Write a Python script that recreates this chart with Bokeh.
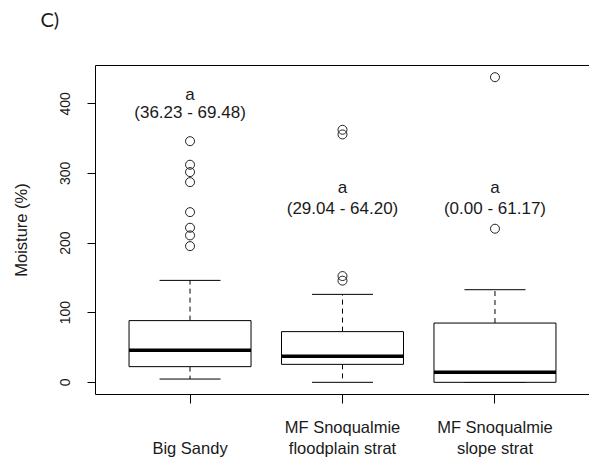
from bokeh.plotting import figure
from bokeh.models import Range1d, FixedTicker, LinearAxis, Title
from bokeh.embed import file_html
from bokeh.resources import INLINE
from bokeh.core.properties import value

# ---- data ----
categories = ["Big Sandy", "MF Snoqualmie\nfloodplain strat", "MF Snoqualmie\nslope strat"]
lower_whisker = [4.7, 0.0, 0.0]
q1 = [22.5, 25.8, 0.0]
median = [45.9, 37.3, 14.4]
q3 = [88.6, 72.8, 85.1]
upper_whisker = [146.4, 126.3, 133.0]
outliers = [
    [346.3, 312.5, 301.9, 287.5, 244.4, 222.0, 211.0, 195.6],
    [362.7, 356.0, 152.6, 146.0],
    [438.2, 220.6],
]
letters = ["a", "a", "a"]
intervals = ["(36.23 - 69.48)", "(29.04 - 64.20)", "(0.00 - 61.17)"]
letter_y = [413.0, 280.0, 280.0]
interval_y = [388.0, 249.3, 249.3]
y_ticks = [0, 100, 200, 300, 400]

xs = list(range(1, len(categories) + 1))

FONT = "Liberation Sans"
TXT = "#1a1a1a"

p = figure(width=589, height=462, output_backend="svg", toolbar_location=None,
           x_range=Range1d(0.38, 3.62), y_range=Range1d(-17.5, 455),
           min_border_left=95, min_border_right=0, min_border_top=65, min_border_bottom=68,
           x_axis_location=None, y_axis_location=None)
p.outline_line_color = None
p.grid.visible = False
p.background_fill_color = "white"
p.border_fill_color = "white"

# panel letter
p.title = Title(text="C)", align="left", offset=-55, standoff=0,
                text_font="Lato", text_font_size="20px", text_font_style="normal",
                text_color=TXT)

# left axis
ya = LinearAxis(ticker=FixedTicker(ticks=y_ticks), axis_label="Moisture (%)")
ya.major_label_orientation = "vertical"
ya.major_tick_out = 8
ya.major_tick_in = 0
ya.minor_tick_out = 0
ya.minor_tick_in = 0
ya.major_label_standoff = 17
ya.axis_label_standoff = 28
ya.major_label_text_font = FONT
ya.major_label_text_font_size = "14px"
ya.major_label_text_color = TXT
ya.axis_label_text_font = FONT
ya.axis_label_text_font_size = "16.5px"
ya.axis_label_text_font_style = "normal"
ya.axis_label_text_color = TXT
ya.axis_line_color = "black"
ya.major_tick_line_color = "black"
p.add_layout(ya, "left")

# bottom axis
xa = LinearAxis(ticker=FixedTicker(ticks=xs))
xa.major_label_overrides = {x: ("\n" + c if "\n" not in c else c) for x, c in zip(xs, categories)}
xa.major_tick_out = 9
xa.major_tick_in = 0
xa.minor_tick_out = 0
xa.minor_tick_in = 0
xa.major_label_standoff = 14
xa.major_label_text_font = FONT
xa.major_label_text_font_size = "16.5px"
xa.major_label_text_color = TXT
xa.axis_line_color = "black"
xa.major_tick_line_color = "black"
p.add_layout(xa, "below")

# top line (frame); a blank axis label keeps the panel letter up high
ta = LinearAxis(ticker=FixedTicker(ticks=[]), axis_label=" ")
ta.major_tick_out = 0
ta.major_tick_in = 0
ta.minor_tick_out = 0
ta.minor_tick_in = 0
ta.major_label_standoff = 0
ta.major_label_text_font_size = "0px"
ta.major_tick_line_color = None
ta.axis_label_text_font_size = "1px"
ta.axis_label_standoff = 31
ta.axis_line_color = "black"
p.add_layout(ta, "above")

# whiskers (dashed)
p.segment(x0=xs, y0=q3, x1=xs, y1=upper_whisker, line_color="black",
          line_width=1, line_dash="5 4")
p.segment(x0=xs, y0=q1, x1=xs, y1=lower_whisker, line_color="black",
          line_width=1, line_dash="5 4")
# whisker caps
cap_half = 0.2
p.segment(x0=[x - cap_half for x in xs], y0=upper_whisker,
          x1=[x + cap_half for x in xs], y1=upper_whisker, line_color="black", line_width=1)
p.segment(x0=[x - cap_half for x in xs], y0=lower_whisker,
          x1=[x + cap_half for x in xs], y1=lower_whisker, line_color="black", line_width=1)
# boxes
p.vbar(x=xs, width=0.8, bottom=q1, top=q3, fill_color="white",
       line_color="black", line_width=1)
# medians
p.segment(x0=[x - 0.4 for x in xs], y0=median, x1=[x + 0.4 for x in xs], y1=median,
          line_color="black", line_width=3.5)

# outliers
ox, oy = [], []
for x, vals in zip(xs, outliers):
    for v in vals:
        ox.append(x)
        oy.append(v)
p.scatter(x=ox, y=oy, marker="circle", size=9, fill_color=None,
          line_color="#222222", line_width=1)

# annotations
p.text(x=xs, y=letter_y, text=letters, text_align="center", text_baseline="alphabetic",
       text_font=value(FONT), text_font_size="17px", text_color=TXT)
p.text(x=xs, y=interval_y, text=intervals, text_align="center", text_baseline="alphabetic",
       text_font=value(FONT), text_font_size="17px", text_color=TXT)

open("out.html", "w").write(file_html(p, INLINE))
